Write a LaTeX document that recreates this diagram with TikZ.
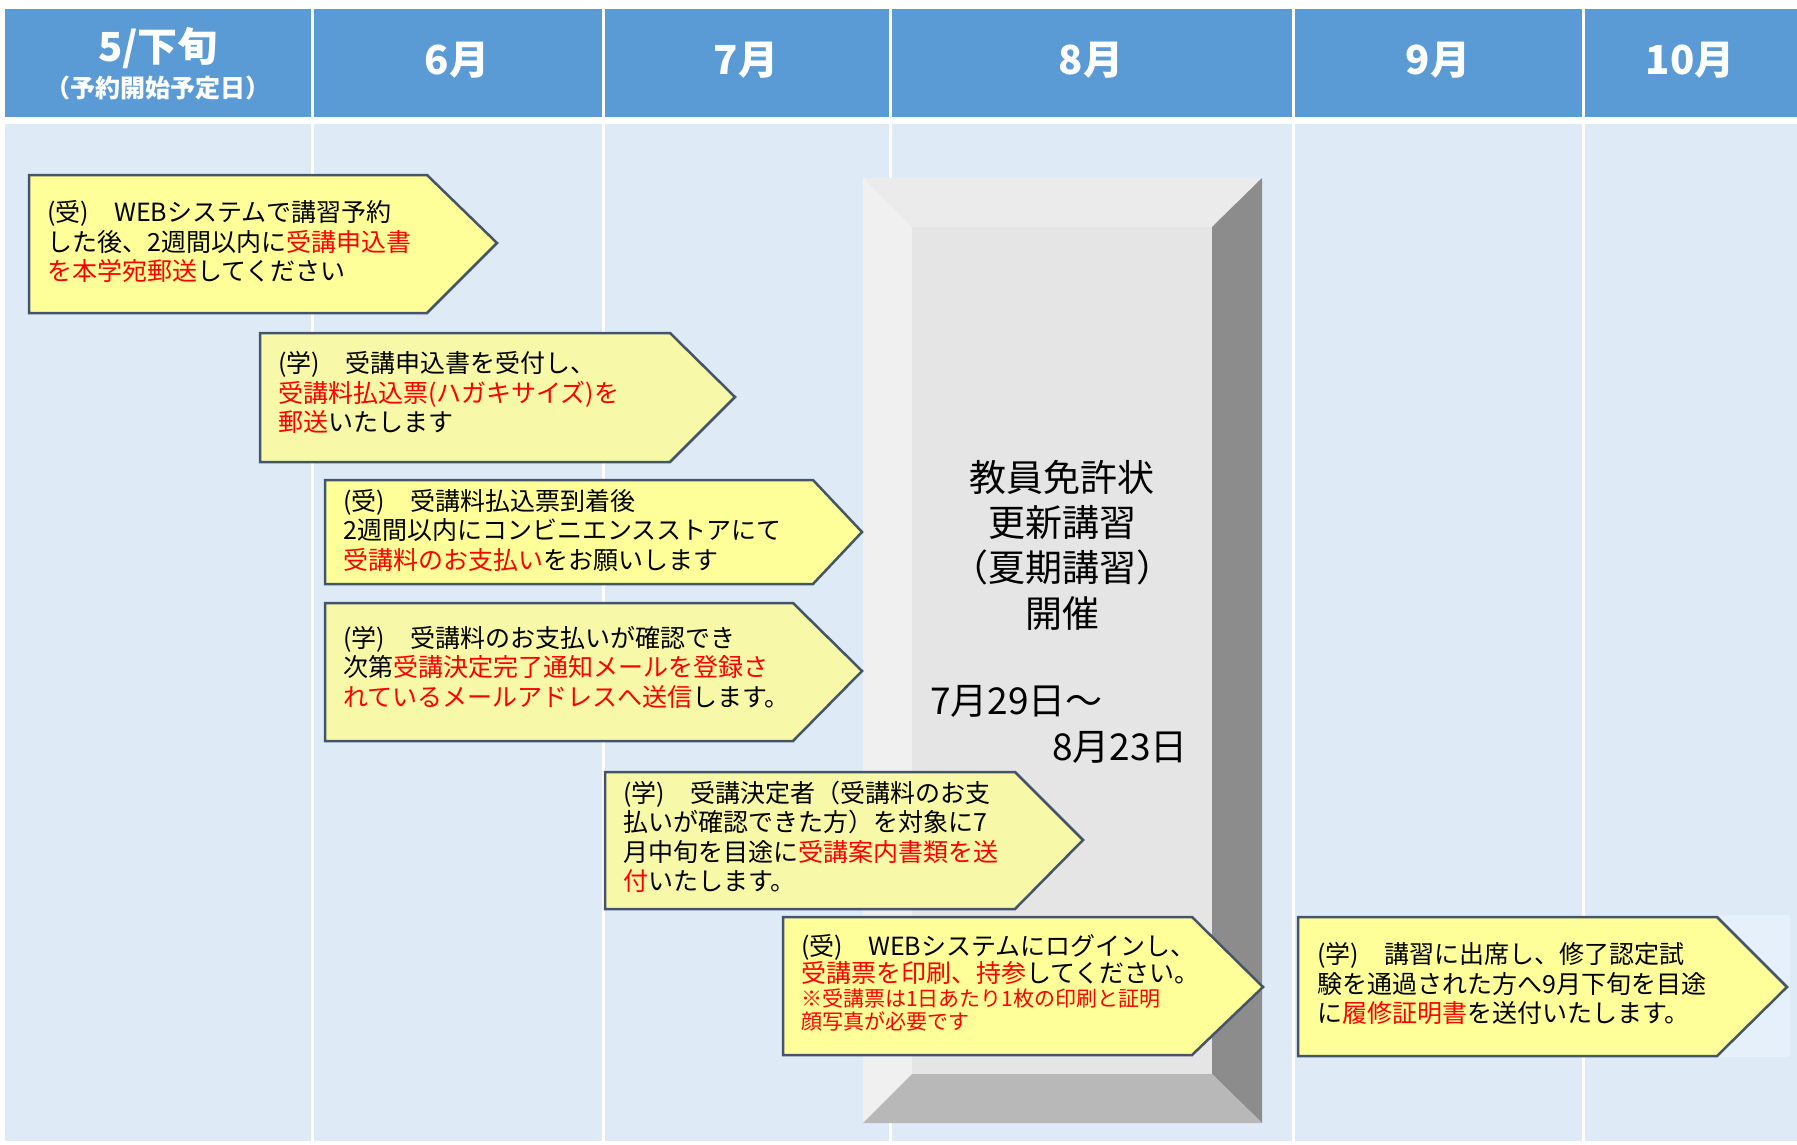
\documentclass[tikz,border=0pt]{standalone}
\usepackage{fontspec}
\setmainfont{Noto Sans CJK JP}
\usepackage{xcolor}
\usepackage{tikz}
\usetikzlibrary{calc}

\definecolor{headblue}{HTML}{5B9BD5}
\definecolor{bodyblue}{HTML}{DEEAF6}
\definecolor{lightarea}{HTML}{E6F0FA}
\definecolor{boxyellow}{HTML}{FFFF99}
\definecolor{paleyellow}{HTML}{F8F9A8}
\definecolor{boxedge}{HTML}{44546A}
\definecolor{txtred}{HTML}{FF0000}
\definecolor{bevtop}{HTML}{EBEBEB}
\definecolor{bevleft}{HTML}{F0F0F0}
\definecolor{bevright}{HTML}{8C8C8C}
\definecolor{bevbottom}{HTML}{B8B8B8}
\definecolor{bevface}{HTML}{E5E5E5}
\newcommand{\rd}[1]{\textcolor{txtred}{#1}}

\tikzset{
  yelbox/.style={fill=boxyellow,draw=boxedge,line width=2.5pt},
  palebox/.style={yelbox,fill=paleyellow},
  boxtext/.style={anchor=west,align=left,inner sep=0pt,font=\fontsize{25}{29.5}\selectfont},
  monthtext/.style={text=white,font=\bfseries\fontsize{40}{44}\selectfont},
  bigtext/.style={font=\fontsize{37}{45.3}\selectfont,inner sep=0pt},
}

\begin{document}
\begin{tikzpicture}[x=1pt,y=-1pt]
	\useasboundingbox (0,0) rectangle (1797,1144);
	\fill[white] (0,0) rectangle (1797,1144);
	\fill[headblue] (5,9) rectangle (1797,117);
	\fill[bodyblue] (5,124) rectangle (1797,1141);
	\foreach \x in {312,603,890,1293,1583}
	\draw[white,line width=3pt] (\x,9) -- (\x,1141);
	\fill[lightarea] (1717,915) rectangle (1790,1057);
	\node[monthtext] (may) at (158,48) {5/下旬};
	\node[text=white,font=\bfseries\fontsize{25}{28}\selectfont] (start) at (158,88) {（予約開始予定日）};
	\foreach \m/\x in {6/457,7/746,8/1091,9/1438,10/1690}
	\node[monthtext] (m\m) at (\x,60) {\m 月};
	\fill[bevtop] (863,178) -- (1262,178) -- (1212,227) -- (912,227) -- cycle;
	\fill[bevleft] (863,178) -- (912,227) -- (912,1074) -- (863,1123) -- cycle;
	\fill[bevright] (1262,178) -- (1262,1123) -- (1212,1074) -- (1212,227) -- cycle;
	\fill[bevbottom] (863,1123) -- (1262,1123) -- (1212,1074) -- (912,1074) -- cycle;
	\fill[bevface] (912,227) rectangle (1212,1074);
	\node[bigtext,align=center] (title) at (1062,545) {教員免許状\\更新講習\\（夏期講習）\\開催};
	\node[bigtext,anchor=west] (from) at (930,701) {7月29日～};
	\node[bigtext,anchor=east] (to) at (1188,747) {8月23日};
	\draw[yelbox] (29,175) -- (427,175) -- (497,243) -- (427,313) -- (29,313) -- cycle;
	\node[boxtext] (step1) at (47,241.5) {(受)　WEBシステムで講習予約\\した後、2週間以内に\rd{受講申込書}\\\rd{を本学宛郵送}してください};
	\draw[palebox] (260,333) -- (670,333) -- (735,397) -- (670,462) -- (260,462) -- cycle;
	\node[boxtext] (step2) at (278,392.5) {(学)　受講申込書を受付し、\\\rd{受講料払込票(ハガキサイズ)を}\\\rd{郵送}いたします};
	\draw[yelbox] (325,480) -- (813,480) -- (862,532) -- (813,584) -- (325,584) -- cycle;
	\node[boxtext] (step3) at (343,530) {(受)　受講料払込票到着後\\2週間以内にコンビニエンスストアにて\\\rd{受講料のお支払い}をお願いします};
	\draw[palebox] (325,603) -- (793,603) -- (862,671) -- (793,741) -- (325,741) -- cycle;
	\node[boxtext] (step4) at (343,667) {(学)　受講料のお支払いが確認でき\\次第\rd{受講決定完了通知メールを登録さ}\\\rd{れているメールアドレスへ送信}します。};
	\draw[palebox] (605,772) -- (1015,772) -- (1083,840) -- (1015,909) -- (605,909) -- cycle;
	\node[boxtext] (step5) at (623,837) {(学)　受講決定者（受講料のお支\\払いが確認できた方）を対象に7\\月中旬を目途に\rd{受講案内書類を送}\\\rd{付}いたします。};
	\draw[yelbox] (783,917) -- (1192,917) -- (1263,987) -- (1192,1055) -- (783,1055) -- cycle;
	\node[boxtext,font=\fontsize{25}{27}\selectfont] (step6) at (801,959.5) {(受)　WEBシステムにログインし、\\\rd{受講票を印刷、持参}してください。};
	\node[boxtext,font=\fontsize{21}{22.5}\selectfont,text=txtred] (note6) at (801,1010) {※受講票は1日あたり1枚の印刷と証明\\顔写真が必要です};
	\draw[yelbox] (1298,917) -- (1717,917) -- (1787,987) -- (1717,1056) -- (1298,1056) -- cycle;
	\node[boxtext] (step7) at (1317,984) {(学)　講習に出席し、修了認定試\\験を通過された方へ9月下旬を目途\\に\rd{履修証明書}を送付いたします。};
\end{tikzpicture}
\end{document}
